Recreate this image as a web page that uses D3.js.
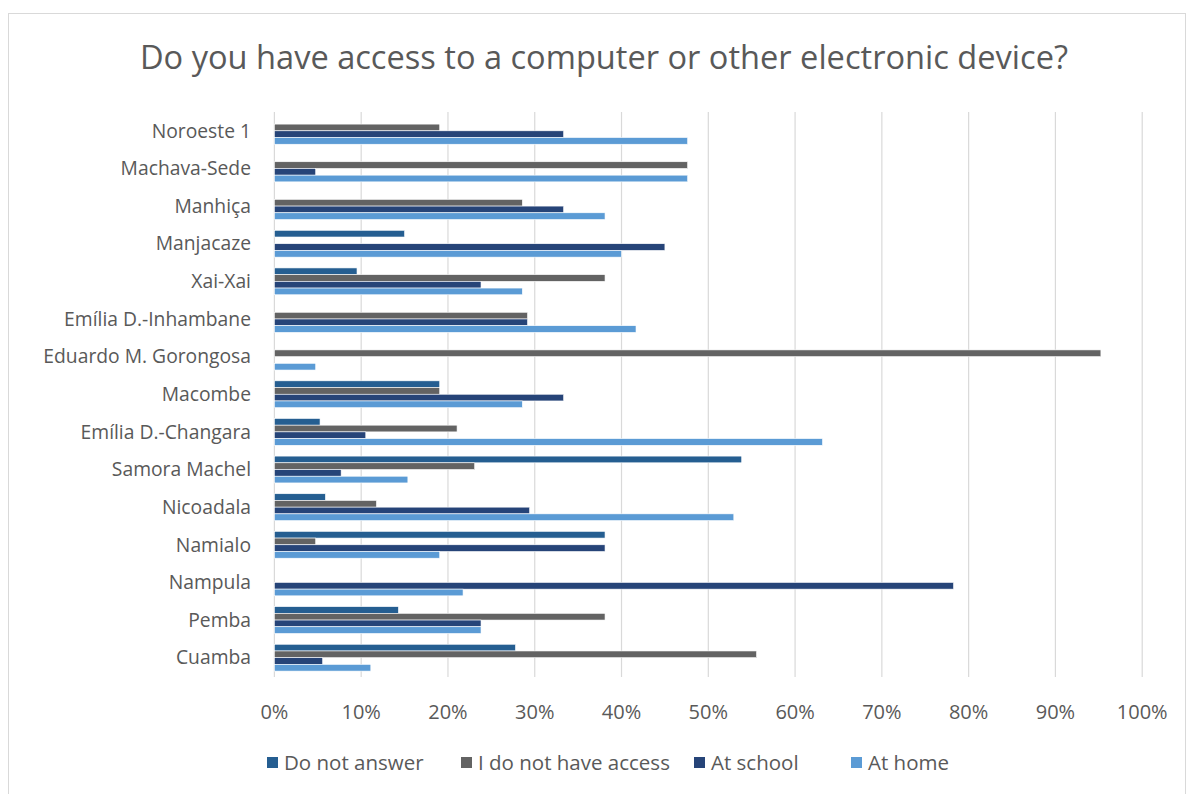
<!DOCTYPE html>
<html>
<head>
<meta charset="utf-8">
<script src="https://cdn.jsdelivr.net/npm/d3@7"></script>
<style>
  html, body { margin: 0; padding: 0; background: #fff; }
  svg { display: block; }
  text { font-family: "Open Sans", "Noto Sans", sans-serif; fill: #595959; }
</style>
</head>
<body>
<svg id="chart" width="1186" height="794"></svg>
<script>
const title = "Do you have access to a computer or other electronic device?";
const categories = ["Noroeste 1", "Machava-Sede", "Manhiça", "Manjacaze", "Xai-Xai",
  "Emília D.-Inhambane", "Eduardo M. Gorongosa", "Macombe", "Emília D.-Changara",
  "Samora Machel", "Nicoadala", "Namialo", "Nampula", "Pemba", "Cuamba"];
const seriesNames = ["Do not answer", "I do not have access", "At school", "At home"];
const seriesColors = ["#255E91", "#636363", "#264478", "#5B9BD5"];
const doNotAnswer = [0, 0, 0, 15, 9.52, 0, 0, 19.05, 5.26, 53.85, 5.88, 38.1, 0, 14.29, 27.78];
const noAccess    = [19.05, 47.62, 28.57, 0, 38.1, 29.17, 95.24, 19.05, 21.05, 23.08, 11.76, 4.76, 0, 38.1, 55.56];
const atSchool    = [33.33, 4.76, 33.33, 45, 23.81, 29.17, 0, 33.33, 10.53, 7.69, 29.41, 38.1, 78.26, 23.81, 5.56];
const atHome      = [47.62, 47.62, 38.1, 40, 28.57, 41.67, 4.76, 28.57, 63.16, 15.38, 52.94, 19.05, 21.74, 23.81, 11.11];
const xTicks = [0, 10, 20, 30, 40, 50, 60, 70, 80, 90, 100];

const seriesValues = [doNotAnswer, noAccess, atSchool, atHome];

const svg = d3.select("#chart");

// chart border
svg.append("rect")
  .attr("x", 8.5).attr("y", 13.5)
  .attr("width", 1177).attr("height", 800)
  .attr("fill", "#fff").attr("stroke", "#d9d9d9").attr("stroke-width", 1);

const x = d3.scaleLinear().domain([0, 100]).range([274.4, 1142.2]);
const y0 = d3.scaleBand().domain(categories).range([112, 676.5])
  .paddingInner(0.287).paddingOuter(0.1435);
const y1 = d3.scaleBand().domain(seriesNames).range([0, y0.bandwidth()]);

// gridlines
svg.append("g").selectAll("line").data(xTicks).join("line")
  .attr("x1", d => x(d)).attr("x2", d => x(d))
  .attr("y1", 112).attr("y2", 677)
  .attr("stroke", "#d9d9d9").attr("stroke-width", 1.2);

// bars
const groups = svg.append("g").selectAll("g").data(categories).join("g")
  .attr("transform", c => `translate(0,${y0(c)})`);
groups.selectAll("rect")
  .data((c, i) => seriesNames.map((s, j) => ({ s, j, v: seriesValues[j][i] })))
  .join("rect")
  .filter(d => d.v > 0)
  .attr("x", x(0))
  .attr("y", d => y1(d.s))
  .attr("width", d => x(d.v) - x(0))
  .attr("height", y1.bandwidth())
  .attr("fill", d => seriesColors[d.j])
  .attr("stroke", "#ffffff").attr("stroke-width", 0.6);

// category labels
svg.append("g").selectAll("text").data(categories).join("text")
  .attr("x", 251)
  .attr("y", c => y0(c) + y0.bandwidth() / 2)
  .attr("dy", "0.35em")
  .attr("text-anchor", "end")
  .attr("font-size", "19.3px")
  .text(c => c);

// x tick labels
svg.append("g").selectAll("text").data(xTicks).join("text")
  .attr("x", d => x(d))
  .attr("y", 719)
  .attr("text-anchor", "middle")
  .attr("font-size", "20px")
  .text(d => d + "%");

// title
svg.append("text")
  .attr("x", 604).attr("y", 69)
  .attr("text-anchor", "middle")
  .attr("font-size", "32.6px")
  .text(title);

// legend
const legendX = [267, 461, 694, 851];
const legend = svg.append("g").selectAll("g").data(seriesNames).join("g")
  .attr("transform", (d, i) => `translate(${legendX[i]},757)`);
legend.append("rect")
  .attr("width", 11).attr("height", 11)
  .attr("fill", (d, i) => seriesColors[i]);
legend.append("text")
  .attr("x", 17).attr("y", 5.5).attr("dy", "0.35em")
  .attr("font-size", "20.5px")
  .text(d => d);
</script>
</body>
</html>
